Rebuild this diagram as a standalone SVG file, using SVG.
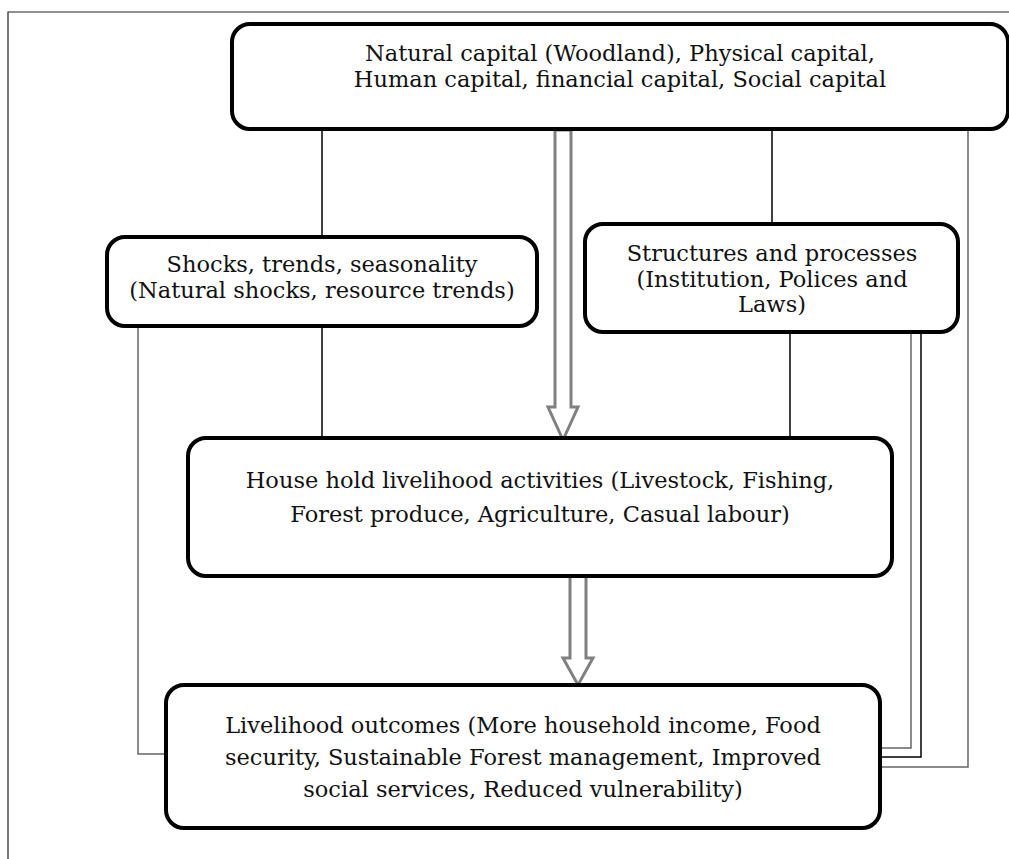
<svg xmlns="http://www.w3.org/2000/svg" width="1009" height="859" viewBox="0 0 1009 859">
<style>
.box{fill:#fff;stroke:#000;stroke-width:4}
.ln{fill:none;stroke:#000;stroke-width:1.5}
.lg{fill:none;stroke:#666;stroke-width:1.5}
.arr{fill:#fff;stroke:#808080;stroke-width:3;stroke-linejoin:miter}
text{font-family:"DejaVu Serif","Liberation Serif",serif;font-size:22.5px;fill:#111;text-anchor:middle}
</style>
<rect width="1009" height="859" fill="#fff"/>
<path d="M8,859 V12 H1009" fill="none" stroke="#222" stroke-width="1.2"/>
<g id="connectors">
<path class="ln" d="M322,129 V438"/>
<path class="ln" d="M772,129 V224"/>
<path class="ln" d="M790,332 V438"/>
<path class="lg" d="M138,326 V754 H166"/>
<path class="lg" d="M911,333 V748 H880"/>
<path class="ln" d="M921,333 V757 H880"/>
<path class="lg" d="M968,129 V767 H880"/>
<polygon class="arr" points="555,130 571,130 571,407 578,407 563,440 548,407 555,407"/>
<polygon class="arr" points="570,575 586,575 586,658 593,658 578,685 563,658 570,658"/>
</g>
<g id="capitals">
<rect class="box" x="232" y="24" width="776" height="105" rx="18"/>
<text x="620" y="61">Natural capital (Woodland), Physical capital,</text>
<text x="620" y="87">Human capital, financial capital, Social capital</text>
</g>
<g id="shocks">
<rect class="box" x="107" y="237" width="430" height="89" rx="18"/>
<text x="322" y="272">Shocks, trends, seasonality</text>
<text x="322" y="298">(Natural shocks, resource trends)</text>
</g>
<g id="structures">
<rect class="box" x="585" y="224" width="373" height="108" rx="18"/>
<text x="772" y="261">Structures and processes</text>
<text x="772" y="287">(Institution, Polices and</text>
<text x="772" y="312">Laws)</text>
</g>
<g id="activities">
<rect class="box" x="188" y="438" width="704" height="138" rx="18"/>
<text x="540" y="488">House hold livelihood activities (Livestock, Fishing,</text>
<text x="540" y="522">Forest produce, Agriculture, Casual labour)</text>
</g>
<g id="outcomes">
<rect class="box" x="166" y="685" width="714" height="143" rx="18"/>
<text x="523" y="733">Livelihood outcomes (More household income, Food</text>
<text x="523" y="765">security, Sustainable Forest management, Improved</text>
<text x="523" y="797">social services, Reduced vulnerability)</text>
</g>
</svg>
